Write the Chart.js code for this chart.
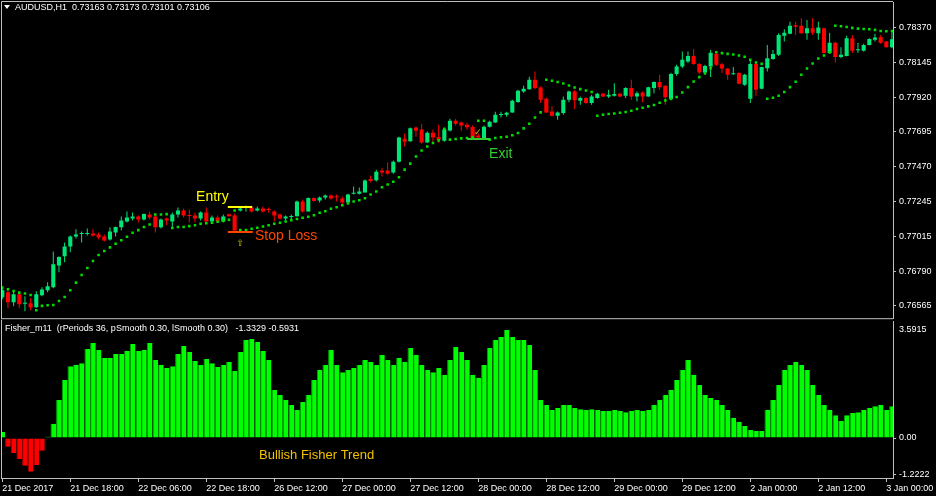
<!DOCTYPE html>
<html>
<head>
<meta charset="utf-8">
<script src="https://cdn.jsdelivr.net/npm/chart.js@4.4.1/dist/chart.umd.min.js"></script>
<style>
html,body{margin:0;padding:0;background:#000;}
body{width:936px;height:496px;position:relative;overflow:hidden;}
canvas{position:absolute;left:0;display:block;}
#priceChart{top:0;}
#fisherChart{top:320px;}
</style>
</head>
<body>
<canvas id="priceChart" width="936" height="320"></canvas>
<canvas id="fisherChart" width="936" height="176"></canvas>
<script>
// ---------------- DATA (AUDUSD H1, 158 bars) ----------------
const opens = [
0.76620,0.76652,0.76588,0.76639,0.76578,0.76581,0.76555,0.76633,0.76665,0.76685,
0.76827,0.76886,0.76950,0.77015,0.77031,0.77031,0.77035,0.77028,0.77015,0.76996,
0.77041,0.77074,0.77112,0.77132,0.77145,0.77125,0.77158,0.77145,0.77074,0.77132,
0.77112,0.77158,0.77184,0.77154,0.77151,0.77132,0.77171,0.77112,0.77138,0.77112,
0.77160,0.77151,0.77184,0.77200,0.77203,0.77184,0.77197,0.77194,0.77177,0.77158,
0.77132,0.77142,0.77147,0.77242,0.77177,0.77265,0.77249,0.77268,0.77281,0.77274,
0.77262,0.77235,0.77293,0.77293,0.77300,0.77388,0.77380,0.77443,0.77443,0.77430,
0.77501,0.77650,0.77633,0.77722,0.77709,0.77626,0.77689,0.77661,0.77637,0.77704,
0.77767,0.77756,0.77741,0.77726,0.77670,0.77650,0.77728,0.77756,0.77804,0.77806,
0.77821,0.77888,0.77957,0.77972,0.78033,0.77983,0.77909,0.77827,0.77799,0.77817,
0.77903,0.77957,0.77897,0.77914,0.77882,0.77914,0.77942,0.77924,0.77929,0.77942,
0.77929,0.77979,0.77924,0.77950,0.77924,0.77979,0.78018,0.77994,0.77908,0.78071,
0.78119,0.78151,0.78188,0.78136,0.78080,0.78119,0.78201,0.78134,0.78106,0.78069,
0.78076,0.78000,0.77909,0.78136,0.77974,0.78108,0.78167,0.78195,0.78318,0.78331,
0.78387,0.78383,0.78335,0.78368,0.78335,0.78368,0.78206,0.78274,0.78180,0.78188,
0.78303,0.78225,0.78222,0.78259,0.78292,0.78309,0.78281,0.78244];

const highs = [
0.76685,0.76665,0.76659,0.76652,0.76626,0.76613,0.76659,0.76685,0.76717,0.76918,
0.76886,0.76976,0.77022,0.77061,0.77048,0.77067,0.77061,0.77041,0.77028,0.77074,
0.77080,0.77145,0.77177,0.77171,0.77151,0.77164,0.77177,0.77164,0.77132,0.77138,
0.77171,0.77203,0.77197,0.77190,0.77171,0.77177,0.77203,0.77151,0.77151,0.77158,
0.77164,0.77164,0.77210,0.77216,0.77216,0.77210,0.77210,0.77203,0.77184,0.77164,
0.77151,0.77158,0.77249,0.77255,0.77268,0.77268,0.77274,0.77287,0.77287,0.77287,
0.77274,0.77293,0.77339,0.77333,0.77385,0.77410,0.77449,0.77462,0.77495,0.77508,
0.77663,0.77683,0.77722,0.77728,0.77747,0.77696,0.77709,0.77741,0.77722,0.77780,
0.77780,0.77762,0.77754,0.77735,0.77683,0.77735,0.77767,0.77825,0.77825,0.77825,
0.77903,0.77968,0.77994,0.78052,0.78086,0.77989,0.77916,0.77860,0.77827,0.77924,
0.77963,0.77968,0.77924,0.77919,0.77935,0.77948,0.77948,0.77968,0.78011,0.77948,
0.77985,0.78033,0.77957,0.77957,0.77987,0.78022,0.78065,0.77997,0.78078,0.78130,
0.78216,0.78216,0.78232,0.78141,0.78130,0.78227,0.78207,0.78144,0.78108,0.78115,
0.78081,0.78071,0.78163,0.78151,0.78117,0.78259,0.78227,0.78335,0.78361,0.78410,
0.78410,0.78432,0.78421,0.78432,0.78410,0.78370,0.78339,0.78279,0.78244,0.78318,
0.78324,0.78274,0.78266,0.78302,0.78331,0.78324,0.78285,0.78352];

const lows = [
0.76607,0.76549,0.76562,0.76549,0.76529,0.76536,0.76552,0.76626,0.76652,0.76678,
0.76782,0.76847,0.76912,0.77002,0.76976,0.77022,0.77015,0.76996,0.76983,0.76989,
0.77015,0.77054,0.77106,0.77119,0.77106,0.77119,0.77125,0.77041,0.77067,0.77087,
0.77074,0.77138,0.77138,0.77106,0.77106,0.77119,0.77112,0.77106,0.77106,0.77106,
0.77145,0.77054,0.77177,0.77177,0.77171,0.77177,0.77171,0.77171,0.77112,0.77125,
0.77119,0.77119,0.77145,0.77171,0.77177,0.77242,0.77235,0.77255,0.77255,0.77242,
0.77223,0.77235,0.77287,0.77287,0.77300,0.77365,0.77372,0.77404,0.77417,0.77423,
0.77495,0.77598,0.77631,0.77663,0.77618,0.77624,0.77631,0.77624,0.77631,0.77696,
0.77735,0.77702,0.77709,0.77644,0.77647,0.77644,0.77722,0.77754,0.77787,0.77793,
0.77819,0.77884,0.77948,0.77968,0.77972,0.77882,0.77819,0.77795,0.77773,0.77806,
0.77886,0.77843,0.77871,0.77877,0.77871,0.77909,0.77919,0.77914,0.77924,0.77919,
0.77914,0.77903,0.77892,0.77886,0.77922,0.77946,0.77968,0.77871,0.77903,0.78059,
0.78108,0.78141,0.78130,0.78071,0.78065,0.78050,0.78123,0.78076,0.78033,0.78065,
0.78003,0.77994,0.77882,0.77929,0.77971,0.78086,0.78163,0.78188,0.78281,0.78329,
0.78324,0.78331,0.78292,0.78324,0.78292,0.78204,0.78201,0.78145,0.78173,0.78186,
0.78206,0.78209,0.78216,0.78256,0.78281,0.78266,0.78243,0.78238];

const closes = [
0.76665,0.76588,0.76639,0.76575,0.76584,0.76555,0.76639,0.76671,0.76691,0.76834,
0.76882,0.76950,0.77015,0.77028,0.77035,0.77035,0.77022,0.77009,0.76989,0.77048,
0.77077,0.77119,0.77138,0.77145,0.77125,0.77161,0.77138,0.77074,0.77125,0.77119,
0.77158,0.77184,0.77151,0.77148,0.77132,0.77171,0.77112,0.77138,0.77112,0.77145,
0.77147,0.77054,0.77197,0.77203,0.77177,0.77197,0.77177,0.77187,0.77151,0.77132,
0.77145,0.77148,0.77242,0.77177,0.77265,0.77245,0.77268,0.77281,0.77262,0.77270,
0.77235,0.77287,0.77297,0.77307,0.77378,0.77375,0.77436,0.77430,0.77423,0.77501,
0.77657,0.77631,0.77718,0.77702,0.77626,0.77689,0.77657,0.77644,0.77709,0.77767,
0.77747,0.77735,0.77724,0.77648,0.77657,0.77728,0.77760,0.77806,0.77806,0.77819,
0.77897,0.77961,0.77974,0.78033,0.77979,0.77903,0.77821,0.77799,0.77821,0.77903,
0.77957,0.77899,0.77914,0.77882,0.77924,0.77942,0.77924,0.77935,0.77940,0.77924,
0.77979,0.77924,0.77946,0.77924,0.77985,0.78018,0.77985,0.77920,0.78071,0.78119,
0.78163,0.78188,0.78136,0.78080,0.78123,0.78209,0.78130,0.78106,0.78065,0.78071,
0.78007,0.78065,0.78136,0.77968,0.78115,0.78173,0.78201,0.78324,0.78339,0.78383,
0.78378,0.78335,0.78368,0.78339,0.78372,0.78206,0.78274,0.78180,0.78195,0.78303,
0.78221,0.78227,0.78259,0.78298,0.78307,0.78274,0.78244,0.78296];

// Parabolic SAR dots
const sar = [
0.76683,0.76672,0.76661,0.76650,0.76644,0.76635,0.76536,0.76564,0.76568,0.76570,
0.76596,0.76622,0.76665,0.76715,0.76764,0.76810,0.76855,0.76894,0.76920,0.76944,
0.76968,0.76991,0.77013,0.77039,0.77056,0.77076,0.77093,0.77158,0.77158,0.77160,
0.77070,0.77076,0.77076,0.77082,0.77088,0.77098,0.77101,0.77104,0.77110,0.77117,
0.77123,0.77184,0.77056,0.77056,0.77065,0.77072,0.77080,0.77088,0.77098,0.77104,
0.77112,0.77121,0.77129,0.77136,0.77143,0.77153,0.77169,0.77179,0.77195,0.77205,
0.77218,0.77229,0.77242,0.77250,0.77263,0.77287,0.77307,0.77335,0.77352,0.77370,
0.77400,0.77449,0.77488,0.77534,0.77573,0.77600,0.77622,0.77639,0.77713,0.77644,
0.77648,0.77652,0.77655,0.77659,0.77767,0.77767,0.77644,0.77655,0.77659,0.77663,
0.77672,0.77687,0.77717,0.77747,0.77788,0.77821,0.78033,0.78026,0.78018,0.78009,
0.77996,0.77983,0.77972,0.77963,0.77953,0.77799,0.77806,0.77810,0.77814,0.77819,
0.77823,0.77832,0.77843,0.77851,0.77860,0.77869,0.77884,0.77898,0.77908,0.77921,
0.77950,0.77985,0.78022,0.78050,0.78075,0.78107,0.78211,0.78206,0.78201,0.78197,
0.78190,0.78182,0.78163,0.78145,0.78136,0.77909,0.77916,0.77929,0.77953,0.77985,
0.78020,0.78065,0.78106,0.78138,0.78171,0.78190,0.78211,0.78384,0.78381,0.78376,
0.78370,0.78365,0.78363,0.78361,0.78357,0.78350,0.78348,0.78350];

// Fisher_m11 histogram
const fisher = [
0.20,-0.29,-0.50,-0.70,-0.92,-1.12,-0.90,-0.42,0.04,0.47,
1.26,1.93,2.39,2.44,2.49,2.96,3.16,2.93,2.66,2.66,
2.79,2.79,2.89,3.13,2.89,2.93,3.16,2.59,2.43,2.33,
2.39,2.79,3.06,2.86,2.56,2.43,2.63,2.49,2.36,2.43,
2.53,2.23,2.86,3.26,3.29,3.19,2.89,2.59,1.60,1.43,
1.26,1.10,0.93,1.20,1.43,1.93,2.26,2.43,2.93,2.43,
2.19,2.26,2.33,2.43,2.59,2.53,2.43,2.76,2.59,2.43,
2.66,2.53,2.99,2.76,2.43,2.26,2.19,2.33,2.10,2.59,
3.03,2.86,2.59,2.10,2.00,2.43,2.99,3.26,3.36,3.59,
3.36,3.26,3.26,3.09,2.26,1.26,1.10,0.93,1.00,1.10,
1.10,1.00,0.96,0.93,0.96,0.93,0.90,0.90,0.93,0.90,
0.86,0.90,0.93,0.90,0.93,1.10,1.26,1.43,1.60,1.93,
2.26,2.59,2.10,1.76,1.43,1.33,1.26,1.10,0.93,0.67,
0.54,0.40,0.27,0.23,0.23,0.93,1.26,1.76,2.26,2.43,
2.53,2.43,2.26,1.76,1.43,1.10,0.93,0.76,0.57,0.76,
0.83,0.86,0.93,1.00,1.06,1.10,0.93,1.06];

const priceTicks = [0.78370,0.78145,0.77920,0.77695,0.77470,0.77245,0.77015,0.76790,0.76565];
const fisherTicks = [3.5915, 0, -1.2222];
const fisherTickLabels = ['3.5915','0.00','-1.2222'];
const timeTickIndex = [0,12,24,36,48,60,72,84,96,108,120,132,144,156];
const timeTickLabels = ['21 Dec 2017','21 Dec 18:00','22 Dec 06:00','22 Dec 18:00','26 Dec 12:00',
  '27 Dec 00:00','27 Dec 12:00','28 Dec 00:00','28 Dec 12:00','29 Dec 00:00','29 Dec 12:00',
  '2 Jan 00:00','2 Jan 12:00','3 Jan 00:00'];

// ---------------- STYLE ----------------
const FONT = "'Liberation Sans', Arial, sans-serif";
const UP = '#00e676', DOWN = '#ff0000', SAR_C = '#00dd00', AXIS = '#c0c0c0';
Chart.defaults.font.family = FONT;
Chart.defaults.font.size = 9;
Chart.defaults.color = '#ffffff';
Chart.defaults.animation = false;

const idx = opens.map((_, i) => i);
const upBar = idx.map(i => closes[i] >= opens[i]);
const X_MIN = -0.05, X_MAX = 157.18;

const overlay = {
  id: 'overlay',
  afterDraw(chart, args, o) {
    const {ctx, chartArea: a, scales} = chart;
    const xs = scales.x, ys = scales.y;
    ctx.save();
    ctx.lineWidth = 1; ctx.strokeStyle = AXIS;
    ctx.beginPath();
    ctx.moveTo(a.left - 0.5, a.bottom + 1);
    ctx.lineTo(a.left - 0.5, o.frameTop ? a.top - 0.5 : 0);
    if (o.frameTop) ctx.lineTo(a.right, a.top - 0.5);
    ctx.stroke();
    if (o.frameBottom) {
      ctx.beginPath(); ctx.moveTo(a.left - 1, a.bottom + 0.5); ctx.lineTo(a.right, a.bottom + 0.5); ctx.stroke();
    }
    (o.lines || []).forEach(l => {
      const py = Math.round(ys.getPixelForValue(l.value));
      ctx.strokeStyle = l.color; ctx.lineWidth = l.width;
      ctx.beginPath();
      ctx.moveTo(xs.getPixelForValue(l.from), py);
      ctx.lineTo(xs.getPixelForValue(l.to), py);
      ctx.stroke();
    });
    (o.texts || []).forEach(t => {
      ctx.font = t.font; ctx.fillStyle = t.color;
      ctx.textAlign = t.align || 'left'; ctx.textBaseline = 'alphabetic';
      ctx.fillText(t.text, xs.getPixelForValue(t.x), ys.getPixelForValue(t.y));
    });
    if (o.header) {
      ctx.font = '9px ' + FONT; ctx.fillStyle = '#ffffff';
      ctx.textAlign = 'left'; ctx.textBaseline = 'middle';
      ctx.fillText(o.header, a.left + o.headerX, a.top + o.headerY);
      if (o.marker) {
        ctx.beginPath();
        ctx.moveTo(a.left + 2, a.top + 3); ctx.lineTo(a.left + 8, a.top + 3); ctx.lineTo(a.left + 5, a.top + 7);
        ctx.closePath(); ctx.fill();
      }
    }
    ctx.restore();
  }
};

// ---------------- PRICE CHART ----------------
new Chart(document.getElementById('priceChart'), {
  type: 'bar',
  data: {
    datasets: [
      { type: 'line', label: 'SAR', data: idx.map(i => ({x: i, y: sar[i]})), showLine: false,
        pointStyle: 'rect', pointRadius: 1.8, pointHoverRadius: 1.8,
        pointBackgroundColor: SAR_C, pointBorderWidth: 0, order: 0 },
      { label: 'body', data: idx.map(i => ({x: i, y: [opens[i], closes[i]]})),
        backgroundColor: c => upBar[c.dataIndex] ? UP : DOWN,
        barPercentage: 0.72, categoryPercentage: 1, minBarLength: 1, inflateAmount: 0, order: 1 },
      { label: 'wick', data: idx.map(i => ({x: i, y: [lows[i], highs[i]]})),
        backgroundColor: c => upBar[c.dataIndex] ? UP : DOWN,
        barThickness: 1, inflateAmount: 0, order: 2 }
    ]
  },
  options: {
    responsive: false, devicePixelRatio: 1, events: [],
    datasets: { bar: { grouped: false } },
    layout: { padding: { left: 2, top: 2, right: 0, bottom: 1 } },
    plugins: {
      legend: { display: false }, tooltip: { enabled: false },
      overlay: {
        frameTop: true, frameBottom: true,
        header: 'AUDUSD,H1  0.73163 0.73173 0.73101 0.73106', headerX: 13, headerY: 6, marker: true,
        lines: [
          { from: 39.8, to: 44.1, value: 0.77205, color: '#ffff00', width: 2 },
          { from: 39.8, to: 44.2, value: 0.77043, color: '#ff4500', width: 2 },
          { from: 82.0, to: 86.1, value: 0.77646, color: '#32cd32', width: 2 }
        ],
        texts: [
          { text: 'Entry', x: 34.2, y: 0.77245, color: '#ffff00', font: '14px ' + FONT },
          { text: 'Stop Loss', x: 44.6, y: 0.76989, color: '#ff4500', font: '14px ' + FONT },
          { text: '\u21E7', x: 42.0, y: 0.76951, color: '#c8c800', font: '9px "DejaVu Sans"', align: 'center' },
          { text: 'Exit', x: 85.9, y: 0.77527, color: '#32cd32', font: '14px ' + FONT },
          { text: '\u2713', x: 83.9, y: 0.77677, color: '#e8c000', font: 'bold 9px "DejaVu Sans"', align: 'center' }
        ]
      }
    },
    scales: {
      x: { type: 'linear', min: X_MIN, max: X_MAX, offset: false, display: false },
      y: { position: 'right', min: 0.76484, max: 0.78538,
        afterBuildTicks: s => { s.ticks = priceTicks.map(v => ({value: v})); },
        afterFit: s => { s.width = 43; s.paddingTop = 0; s.paddingBottom = 0; },
        ticks: { callback: v => Number(v).toFixed(5), padding: 3, color: '#ffffff', font: { size: 9 } },
        grid: { drawOnChartArea: false, drawTicks: true, tickLength: 3, color: AXIS },
        border: { display: true, color: AXIS } }
    }
  },
  plugins: [overlay]
});

// ---------------- FISHER CHART ----------------
new Chart(document.getElementById('fisherChart'), {
  type: 'bar',
  data: {
    datasets: [{
      label: 'Fisher', data: idx.map(i => ({x: i, y: fisher[i]})),
      backgroundColor: c => fisher[c.dataIndex] >= 0 ? '#00ff00' : '#ff0000',
      borderColor: c => fisher[c.dataIndex] >= 0 ? '#00a800' : '#b00000',
      borderWidth: { left: 1, right: 0, top: 0, bottom: 0 }, borderSkipped: false,
      barPercentage: 1, categoryPercentage: 1, inflateAmount: 0
    }]
  },
  options: {
    responsive: false, devicePixelRatio: 1, events: [],
    layout: { padding: { left: 2, top: 1, right: 0, bottom: 0 } },
    plugins: {
      legend: { display: false }, tooltip: { enabled: false },
      overlay: {
        frameTop: false, frameBottom: false,
        header: 'Fisher_m11  (rPeriods 36, pSmooth 0.30, lSmooth 0.30)   -1.3329 -0.5931', headerX: 3, headerY: 8,
        texts: [
          { text: 'Bullish Fisher Trend', x: 45.3, y: -0.70, color: '#f2c200', font: '13px ' + FONT }
        ]
      }
    },
    scales: {
      x: { type: 'linear', min: X_MIN, max: X_MAX, offset: false,
        afterBuildTicks: s => { s.ticks = timeTickIndex.map(v => ({value: v})); },
        afterFit: s => { s.height = 18; s.paddingLeft = 0; s.paddingRight = 0; },
        ticks: { align: 'start', autoSkip: false, maxRotation: 0, minRotation: 0, padding: 1,
          callback: v => timeTickLabels[timeTickIndex.indexOf(v)], color: '#ffffff', font: { size: 9 } },
        grid: { drawOnChartArea: false, drawTicks: true, tickLength: 4, color: AXIS, offset: false },
        border: { display: true, color: AXIS } },
      y: { position: 'right', min: -1.330, max: 3.891,
        afterBuildTicks: s => { s.ticks = fisherTicks.map(v => ({value: v})); },
        afterFit: s => { s.width = 43; s.paddingTop = 0; s.paddingBottom = 0; },
        ticks: { callback: v => fisherTickLabels[fisherTicks.indexOf(v)], padding: 3, color: '#ffffff', font: { size: 9 } },
        grid: { drawOnChartArea: false, drawTicks: true, tickLength: 3,
          color: c => (c.tick && c.tick.value === fisherTicks[0]) ? 'rgba(0,0,0,0)' : AXIS },
        border: { display: true, color: AXIS } }
    }
  },
  plugins: [overlay]
});
</script>
</body>
</html>
